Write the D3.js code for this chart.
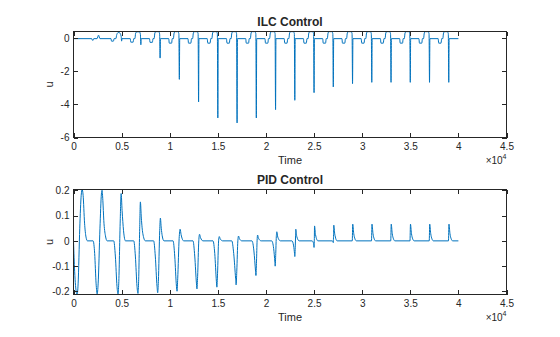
<!DOCTYPE html>
<html><head><meta charset="utf-8">
<script src="https://cdn.jsdelivr.net/npm/d3@7"></script>
<style>
body{margin:0;background:#fff}
svg{display:block}
</style>
</head><body>
<svg id="c" width="560" height="337"></svg>
<script>
// ---------- data ----------
const xTicks = [0,5000,10000,15000,20000,25000,30000,35000,40000,45000];
const xTickLabels = ["0","0.5","1","1.5","2","2.5","3","3.5","4","4.5"];
const ilcYTicks = [-6,-4,-2,0];
const ilcYTickLabels = ["-6","-4","-2","0"];
const pidYTicks = [-0.2,-0.1,0,0.1,0.2];
const pidYTickLabels = ["-0.2","-0.1","0","0.1","0.2"];
const titles = ["ILC Control","PID Control"];
const xLabel = "Time";
const yLabel = "u";

// ILC control signal [time, u]
const ilcPoints = [
 [0,-0.05],
 [1900,-0.05],[1950,-0.14],[2050,-0.14],[2100,-0.05],[2450,-0.05],[2600,0.16],[2750,-0.05],
 [3900,-0.05],[3950,-0.2],[4150,-0.2],[4220,-0.05],[4400,-0.05],[4500,0.2],[4650,0.32],[4800,0.3],[4950,0.1],[5000,-0.2],[5040,-0.05],
 [5900,-0.05],[5950,-0.26],[6200,-0.26],[6260,-0.05],[6380,-0.05],[6460,0.28],[6580,0.36],[6850,0.36],[6950,0.22],[7000,-0.42],[7040,-0.05],
 [7900,-0.05],[7950,-0.27],[8200,-0.27],[8260,-0.05],[8380,-0.05],[8460,0.3],[8580,0.37],[8850,0.37],[8950,0.24],[9000,-1.22],[9040,-0.05],
 [9900,-0.05],[9950,-0.32],[10200,-0.32],[10260,-0.05],[10380,-0.05],[10460,0.3],[10580,0.37],[10850,0.37],[10950,0.25],[11000,-2.5],[11040,-0.05],
 [11900,-0.05],[11950,-0.32],[12200,-0.32],[12260,-0.05],[12380,-0.05],[12460,0.3],[12580,0.37],[12850,0.37],[12950,0.25],[13000,-3.86],[13040,-0.05],
 [13900,-0.05],[13950,-0.32],[14200,-0.32],[14260,-0.05],[14380,-0.05],[14460,0.3],[14580,0.37],[14850,0.37],[14950,0.25],[15000,-4.82],[15040,-0.05],
 [15900,-0.05],[15950,-0.32],[16200,-0.32],[16260,-0.05],[16380,-0.05],[16460,0.3],[16580,0.37],[16850,0.37],[16950,0.25],[17000,-5.12],[17040,-0.05],
 [17900,-0.05],[17950,-0.32],[18200,-0.32],[18260,-0.05],[18380,-0.05],[18460,0.3],[18580,0.37],[18850,0.37],[18950,0.25],[19000,-4.82],[19040,-0.05],
 [19900,-0.05],[19950,-0.32],[20200,-0.32],[20260,-0.05],[20380,-0.05],[20460,0.3],[20580,0.37],[20850,0.37],[20950,0.25],[21000,-4.32],[21040,-0.05],
 [21900,-0.05],[21950,-0.32],[22200,-0.32],[22260,-0.05],[22380,-0.05],[22460,0.3],[22580,0.37],[22850,0.37],[22950,0.25],[23000,-3.76],[23040,-0.05],
 [23900,-0.05],[23950,-0.32],[24200,-0.32],[24260,-0.05],[24380,-0.05],[24460,0.3],[24580,0.37],[24850,0.37],[24950,0.25],[25000,-3.3],[25040,-0.05],
 [25900,-0.05],[25950,-0.32],[26200,-0.32],[26260,-0.05],[26380,-0.05],[26460,0.3],[26580,0.37],[26850,0.37],[26950,0.25],[27000,-2.96],[27040,-0.05],
 [27900,-0.05],[27950,-0.32],[28200,-0.32],[28260,-0.05],[28380,-0.05],[28460,0.3],[28580,0.37],[28850,0.37],[28950,0.25],[29000,-2.76],[29040,-0.05],
 [29900,-0.05],[29950,-0.32],[30200,-0.32],[30260,-0.05],[30380,-0.05],[30460,0.3],[30580,0.37],[30850,0.37],[30950,0.25],[31000,-2.68],[31040,-0.05],
 [31900,-0.05],[31950,-0.32],[32200,-0.32],[32260,-0.05],[32380,-0.05],[32460,0.3],[32580,0.37],[32850,0.37],[32950,0.25],[33000,-2.68],[33040,-0.05],
 [33900,-0.05],[33950,-0.32],[34200,-0.32],[34260,-0.05],[34380,-0.05],[34460,0.3],[34580,0.37],[34850,0.37],[34950,0.25],[35000,-2.68],[35040,-0.05],
 [35900,-0.05],[35950,-0.32],[36200,-0.32],[36260,-0.05],[36380,-0.05],[36460,0.3],[36580,0.37],[36850,0.37],[36950,0.25],[37000,-2.68],[37040,-0.05],
 [37900,-0.05],[37950,-0.32],[38200,-0.32],[38260,-0.05],[38380,-0.05],[38460,0.3],[38580,0.37],[38850,0.37],[38950,0.25],[39000,-2.68],[39040,-0.05],
 [40000,-0.05]
];

// PID control signal [time, u]
const pidPoints = [
 [0,0],[120,-0.12],[300,-0.205],[380,-0.212],[480,-0.17],[650,0.05],[800,0.18],[900,0.203],[1000,0.18],[1150,0.07],[1300,0.015],[1450,0],
 [2040,0],[2200,-0.05],[2350,-0.17],[2460,-0.21],[2560,-0.17],[2750,0.05],[2900,0.185],[2970,0.2],[3050,0.16],[3150,0.08],[3320,0.02],[3500,0],
 [4180,0],[4350,-0.06],[4520,-0.18],[4630,-0.21],[4700,-0.17],[4850,0.07],[4950,0.187],[5050,0.12],[5200,0.04],[5400,0],
 [6260,0],[6430,-0.06],[6600,-0.18],[6700,-0.208],[6760,-0.17],[6880,0.05],[6950,0.154],[7050,0.09],[7200,0.03],[7470,0],
 [8330,0],[8500,-0.06],[8680,-0.18],[8750,-0.205],[8820,-0.16],[8960,0.04],[9030,0.09],[9120,0.05],[9220,0.02],[9400,0],
 [10350,0],[10520,-0.06],[10700,-0.18],[10760,-0.199],[10830,-0.15],[10980,0.01],[11080,0.046],[11180,0.025],[11300,0.008],[11450,0],
 [12420,0],[12600,-0.06],[12780,-0.17],[12830,-0.19],[12900,-0.14],[13020,0],[13100,0.026],[13200,0.013],[13450,0],
 [14500,0],[14680,-0.05],[14850,-0.16],[14900,-0.183],[14970,-0.13],[15080,0],[15150,0.017],[15250,0.008],[15500,0],
 [16450,0],[16650,-0.05],[16850,-0.15],[16900,-0.174],[16970,-0.12],[17080,0],[17150,0.019],[17250,0.008],[17500,0],
 [18550,0],[18750,-0.04],[18920,-0.12],[18960,-0.137],[19020,-0.08],[19080,0],[19130,0.023],[19230,0.01],[19500,0],
 [20600,0],[20800,-0.03],[20930,-0.085],[20960,-0.1],[21020,-0.05],[21070,0.01],[21130,0.036],[21230,0.015],[21500,0],
 [22700,0],[22880,-0.02],[22970,-0.05],[23000,-0.062],[23050,-0.02],[23080,0.02],[23100,0.046],[23200,0.018],[23450,0],
 [24800,0],[24950,-0.01],[25000,-0.026],[25030,0.01],[25050,0.059],[25150,0.025],[25400,0],
 [26900,0],[26980,-0.004],[27000,-0.007],[27030,0.03],[27050,0.062],[27150,0.027],[27400,0],
 [28970,0],[29020,0.066],[29120,0.03],[29250,0.008],[29400,0],
 [30970,0],[31020,0.066],[31120,0.03],[31250,0.008],[31400,0],
 [32970,0],[33020,0.066],[33120,0.03],[33250,0.008],[33400,0],
 [34970,0],[35020,0.066],[35120,0.03],[35250,0.008],[35400,0],
 [36970,0],[37020,0.066],[37120,0.03],[37250,0.008],[37400,0],
 [38970,0],[39020,0.066],[39120,0.03],[39250,0.008],[39400,0],
 [40000,0]
];

// ---------- drawing ----------
const FONT = "'Liberation Sans', Arial, Helvetica, sans-serif";
const INK = "#262626";
const LINE = "#0072BD";
const X_LEFT = 73.5, X_RIGHT = 506.5, TICK = 4.3;
const svg = d3.select("#c");
svg.append("rect").attr("width",560).attr("height",337).attr("fill","#fff");

const panels = [
  {top:31.5, bottom:137.5, yDomain:[-6,0.38], yTicks:ilcYTicks, yLabels:ilcYTickLabels, title:titles[0], data:ilcPoints},
  {top:189.5, bottom:294.5, yDomain:[-0.212,0.203], yTicks:pidYTicks, yLabels:pidYTickLabels, title:titles[1], data:pidPoints}
];

panels.forEach((p, i) => {
  const x = d3.scaleLinear().domain([0,45000]).range([X_LEFT, X_RIGHT]);
  const y = d3.scaleLinear().domain(p.yDomain).range([p.bottom, p.top]);
  const g = svg.append("g");

  const clipId = "clip" + i;
  svg.append("clipPath").attr("id", clipId).append("rect")
    .attr("x", X_LEFT).attr("y", p.top).attr("width", X_RIGHT - X_LEFT).attr("height", p.bottom - p.top);

  const line = d3.line().x(d => x(d[0])).y(d => y(d[1])).curve(d3.curveMonotoneX);
  g.append("path").datum(p.data)
    .attr("clip-path", `url(#${clipId})`)
    .attr("d", line).attr("fill","none").attr("stroke", LINE)
    .attr("stroke-width", 1).attr("stroke-linejoin","round");

  const styleAxis = sel => {
    sel.select(".domain").remove();
    sel.attr("font-family", FONT).attr("font-size", 10).attr("color", INK);
    sel.selectAll(".tick line").attr("stroke-width", 1).attr("shape-rendering","crispEdges");
    sel.selectAll(".tick text").attr("fill", INK);
  };

  g.append("g").attr("transform", `translate(0,${p.bottom})`)
    .call(d3.axisBottom(x).tickValues(xTicks).tickFormat((d,k) => xTickLabels[k])
      .tickSizeInner(-TICK).tickSizeOuter(0).tickPadding(5))
    .call(styleAxis);
  g.append("g").attr("transform", `translate(0,${p.top})`)
    .call(d3.axisTop(x).tickValues(xTicks).tickFormat(() => "")
      .tickSizeInner(-TICK).tickSizeOuter(0))
    .call(styleAxis);
  g.append("g").attr("transform", `translate(${X_LEFT},0)`)
    .call(d3.axisLeft(y).tickValues(p.yTicks).tickFormat((d,k) => p.yLabels[k])
      .tickSizeInner(-TICK).tickSizeOuter(0).tickPadding(4))
    .call(styleAxis);
  g.append("g").attr("transform", `translate(${X_RIGHT},0)`)
    .call(d3.axisRight(y).tickValues(p.yTicks).tickFormat(() => "")
      .tickSizeInner(-TICK).tickSizeOuter(0))
    .call(styleAxis);

  g.append("rect").attr("x", X_LEFT).attr("y", p.top)
    .attr("width", X_RIGHT - X_LEFT).attr("height", p.bottom - p.top)
    .attr("fill","none").attr("stroke", INK).attr("stroke-width", 1)
    .attr("shape-rendering","crispEdges");

  const cx = (X_LEFT + X_RIGHT) / 2;
  g.append("text").attr("x", cx).attr("y", p.top - 6)
    .attr("text-anchor","middle").attr("font-family", FONT).attr("font-size", 12)
    .attr("font-weight","bold").attr("fill", INK).text(p.title);
  g.append("text").attr("x", cx).attr("y", p.bottom + 26.5)
    .attr("text-anchor","middle").attr("font-family", FONT).attr("font-size", 11)
    .attr("fill", INK).text(xLabel);
  const cy = (p.top + p.bottom) / 2;
  g.append("text").attr("transform", `translate(53,${cy}) rotate(-90)`)
    .attr("text-anchor","middle").attr("font-family", FONT).attr("font-size", 11)
    .attr("fill", INK).text(yLabel);
  const ex = g.append("text").attr("x", X_RIGHT).attr("y", p.bottom + 26.5)
    .attr("text-anchor","end").attr("font-family", FONT).attr("font-size", 10).attr("fill", INK);
  ex.append("tspan").text("\u00d710");
  ex.append("tspan").attr("dy", -5).attr("font-size", 7).text("4");
});
</script>
</body></html>
